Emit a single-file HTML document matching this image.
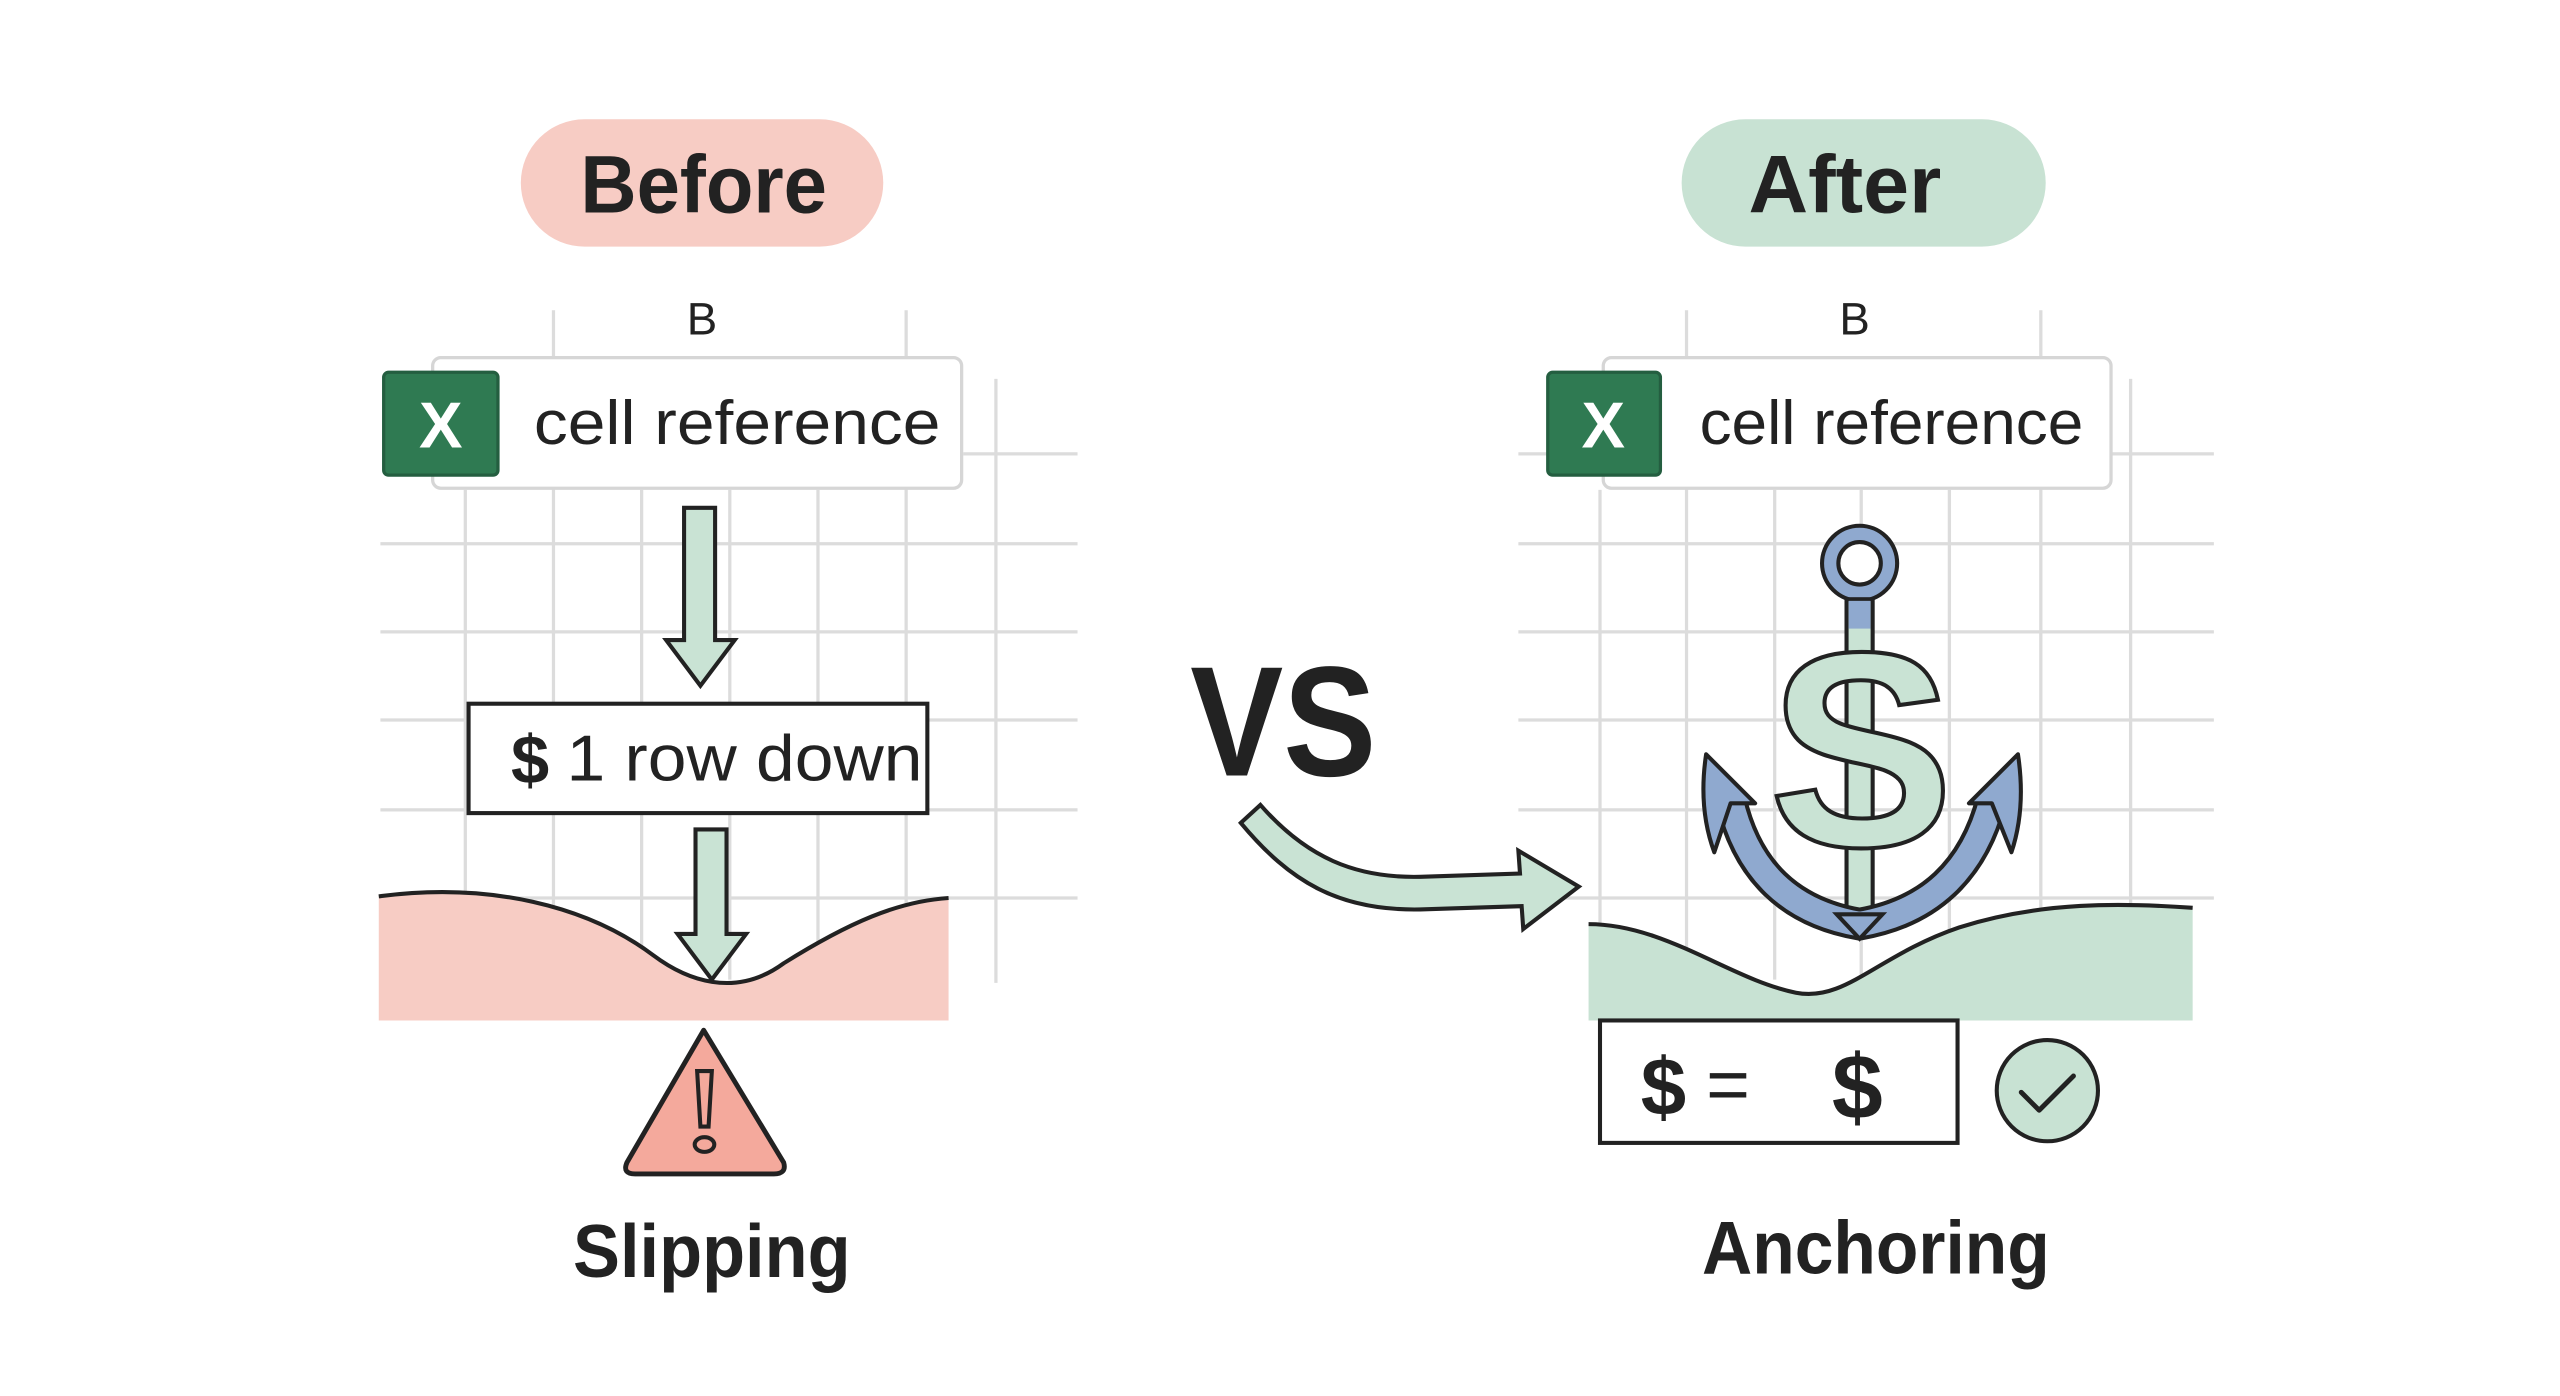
<!DOCTYPE html>
<html><head><meta charset="utf-8"><style>
html,body{margin:0;padding:0;background:#fff;}
svg{display:block}
text{font-family:"Liberation Sans","DejaVu Sans",sans-serif;fill:#222}
</style></head><body>
<svg width="2560" height="1396" viewBox="0 0 1568 855" xmlns="http://www.w3.org/2000/svg">
<rect width="1568" height="855" fill="#fff"/>
<!-- LEFT GRID -->
<g stroke="#dcdcdc" stroke-width="2" fill="none">
<line x1="339" y1="190" x2="339" y2="600"/><line x1="555" y1="190" x2="555" y2="600"/>
<line x1="610" y1="232" x2="610" y2="602"/><line x1="285" y1="300" x2="285" y2="600"/>
<line x1="393" y1="300" x2="393" y2="600"/><line x1="447" y1="300" x2="447" y2="600"/>
<line x1="501" y1="300" x2="501" y2="600"/>
<line x1="590" y1="278" x2="660" y2="278"/>
<line x1="233" y1="333" x2="660" y2="333"/><line x1="233" y1="387" x2="660" y2="387"/>
<line x1="233" y1="441" x2="660" y2="441"/><line x1="233" y1="496" x2="660" y2="496"/>
<line x1="233" y1="550" x2="660" y2="550"/>
</g>
<!-- RIGHT GRID -->
<g stroke="#dcdcdc" stroke-width="2" fill="none">
<line x1="1033" y1="190" x2="1033" y2="600"/><line x1="1250" y1="190" x2="1250" y2="600"/>
<line x1="1305" y1="232" x2="1305" y2="600"/><line x1="980" y1="300" x2="980" y2="600"/>
<line x1="1087" y1="300" x2="1087" y2="600"/><line x1="1140" y1="300" x2="1140" y2="600"/>
<line x1="1194" y1="300" x2="1194" y2="600"/>
<line x1="930" y1="278" x2="1356" y2="278"/>
<line x1="930" y1="333" x2="1356" y2="333"/><line x1="930" y1="387" x2="1356" y2="387"/>
<line x1="930" y1="441" x2="1356" y2="441"/><line x1="930" y1="496" x2="1356" y2="496"/>
<line x1="930" y1="550" x2="1356" y2="550"/>
</g>

<!-- Pills -->
<rect x="319" y="73" width="222" height="78" rx="39" fill="#f7ccc4"/>
<text x="431" y="130" font-size="50" font-weight="bold" text-anchor="middle" textLength="151" lengthAdjust="spacingAndGlyphs">Before</text>
<rect x="1030" y="73" width="223" height="78" rx="39" fill="#c8e2d3"/>
<text x="1130" y="130" font-size="50" font-weight="bold" text-anchor="middle" textLength="118" lengthAdjust="spacingAndGlyphs">After</text>

<!-- B labels -->
<text x="430" y="205" font-size="28" text-anchor="middle">B</text>
<text x="1136" y="205" font-size="28" text-anchor="middle">B</text>

<!-- cell ref boxes -->
<rect x="265" y="219" width="324" height="80" rx="5" fill="#fff" stroke="#d6d6d6" stroke-width="2"/>
<rect x="235" y="228" width="70" height="63" rx="3" fill="#2f7a52" stroke="#245e40" stroke-width="2"/>
<text x="270" y="274" font-size="40" font-weight="bold" text-anchor="middle" style="fill:#fff">X</text>
<text x="327" y="272" font-size="38" textLength="249" lengthAdjust="spacingAndGlyphs">cell reference</text>

<rect x="982" y="219" width="311" height="80" rx="5" fill="#fff" stroke="#d6d6d6" stroke-width="2"/>
<rect x="948" y="228" width="69" height="63" rx="3" fill="#2f7a52" stroke="#245e40" stroke-width="2"/>
<text x="982" y="274" font-size="40" font-weight="bold" text-anchor="middle" style="fill:#fff">X</text>
<text x="1041" y="272" font-size="38" textLength="235" lengthAdjust="spacingAndGlyphs">cell reference</text>

<!-- left arrows -->
<path d="M419,311 H438 V392 H450 L429,420 L408,392 H419 Z" fill="#c9e3d4" stroke="#222" stroke-width="2.5" stroke-linejoin="miter"/>
<rect x="287" y="431" width="281" height="67" fill="#fff" stroke="#222" stroke-width="2.5"/>
<text x="313" y="480" font-size="42" font-weight="bold">$</text>
<text x="347" y="478" font-size="40" textLength="218" lengthAdjust="spacingAndGlyphs">1 row down</text>

<!-- pink wave -->
<path d="M232,549 C300,540 360,555 400,585 C420,600 450,612 480,590 C520,565 550,552 581,550 V625 H232 Z" fill="#f7ccc4"/>
<path d="M426,508 H445 V572 H457 L436,600 L415,572 H426 Z" fill="#c9e3d4" stroke="#222" stroke-width="2.5"/>
<path d="M232,549 C300,540 360,555 400,585 C420,600 450,612 480,590 C520,565 550,552 581,550" fill="none" stroke="#222" stroke-width="2.5"/>

<!-- warning -->
<path d="M431,631 L480,712 Q482,719 474,719 L389,719 Q381,719 384,712 Z" fill="#f4a99c" stroke="#222" stroke-width="3" stroke-linejoin="round"/>
<path d="M427,656 H436 L434,690 H429 Z" fill="#f4a99c" stroke="#222" stroke-width="2.5"/>
<ellipse cx="431.5" cy="701" rx="6" ry="4.5" fill="#f4a99c" stroke="#222" stroke-width="2.5"/>
<text x="436" y="782" font-size="46" font-weight="bold" text-anchor="middle" textLength="170" lengthAdjust="spacingAndGlyphs">Slipping</text>

<!-- VS -->
<text x="786" y="475" font-size="96" font-weight="bold" text-anchor="middle" textLength="114" lengthAdjust="spacingAndGlyphs">VS</text>
<path d="M760,504 L772,493 C800,525 830,538 870,537 L931,535 L930,521 L967,543 L933,569 L932,555 L870,557 C820,558 790,540 760,504 Z" fill="#c9e3d4" stroke="#222" stroke-width="2.5" stroke-linejoin="miter"/>

<!-- green wave -->
<path d="M973,566 C1020,566 1060,600 1100,608 C1130,614 1150,585 1200,568 C1250,552 1300,553 1343,556 V625 H973 Z" fill="#c8e2d3"/>
<path d="M973,566 C1020,566 1060,600 1100,608 C1130,614 1150,585 1200,568 C1250,552 1300,553 1343,556" fill="none" stroke="#222" stroke-width="2.5"/>

<!-- anchor -->
<circle cx="1139" cy="345" r="23" fill="#8fa9cf" stroke="#222" stroke-width="2.5"/>
<circle cx="1139" cy="345" r="13" fill="#fff" stroke="#222" stroke-width="2.5"/>
<rect x="1131" y="367" width="16" height="200" fill="#c9e3d4" stroke="#222" stroke-width="2.5"/>
<rect x="1132.3" y="368" width="13.4" height="17" fill="#8fa9cf"/>
<path d="M1060,490 Q1075,555 1139,566 Q1203,555 1220,490" fill="none" stroke="#222" stroke-width="20"/>
<path d="M1060,490 Q1075,555 1139,566 Q1203,555 1220,490" fill="none" stroke="#8fa9cf" stroke-width="15"/>
<path d="M1125,560 L1139,575 L1153,560 Z" fill="#8fa9cf" stroke="#222" stroke-width="2.5"/>
<path d="M1045,462 L1075,492 L1060,492 L1050,522 Q1040,495 1045,462 Z" fill="#8fa9cf" stroke="#222" stroke-width="2.5" stroke-linejoin="round"/>
<path d="M1236,462 L1206,492 L1220,492 L1232,522 Q1241,495 1236,462 Z" fill="#8fa9cf" stroke="#222" stroke-width="2.5" stroke-linejoin="round"/>
<text x="1140" y="518" font-size="170" font-weight="bold" text-anchor="middle" style="fill:#c9e3d4;stroke:#222;stroke-width:2.5">S</text>

<!-- equals box -->
<rect x="980" y="625" width="219" height="75" fill="#fff" stroke="#222" stroke-width="2.5"/>
<text x="1005" y="683" font-size="50" font-weight="bold">$</text>
<text x="1045" y="680" font-size="46">=</text>
<text x="1122" y="685" font-size="56" font-weight="bold">$</text>
<circle cx="1254" cy="668" r="31" fill="#c8e2d3" stroke="#222" stroke-width="2.5"/>
<path d="M1238,669 L1249,680 L1270,659" fill="none" stroke="#222" stroke-width="3" stroke-linecap="round" stroke-linejoin="round"/>
<text x="1149" y="780" font-size="46" font-weight="bold" text-anchor="middle" textLength="213" lengthAdjust="spacingAndGlyphs">Anchoring</text>
</svg>
</body></html>
